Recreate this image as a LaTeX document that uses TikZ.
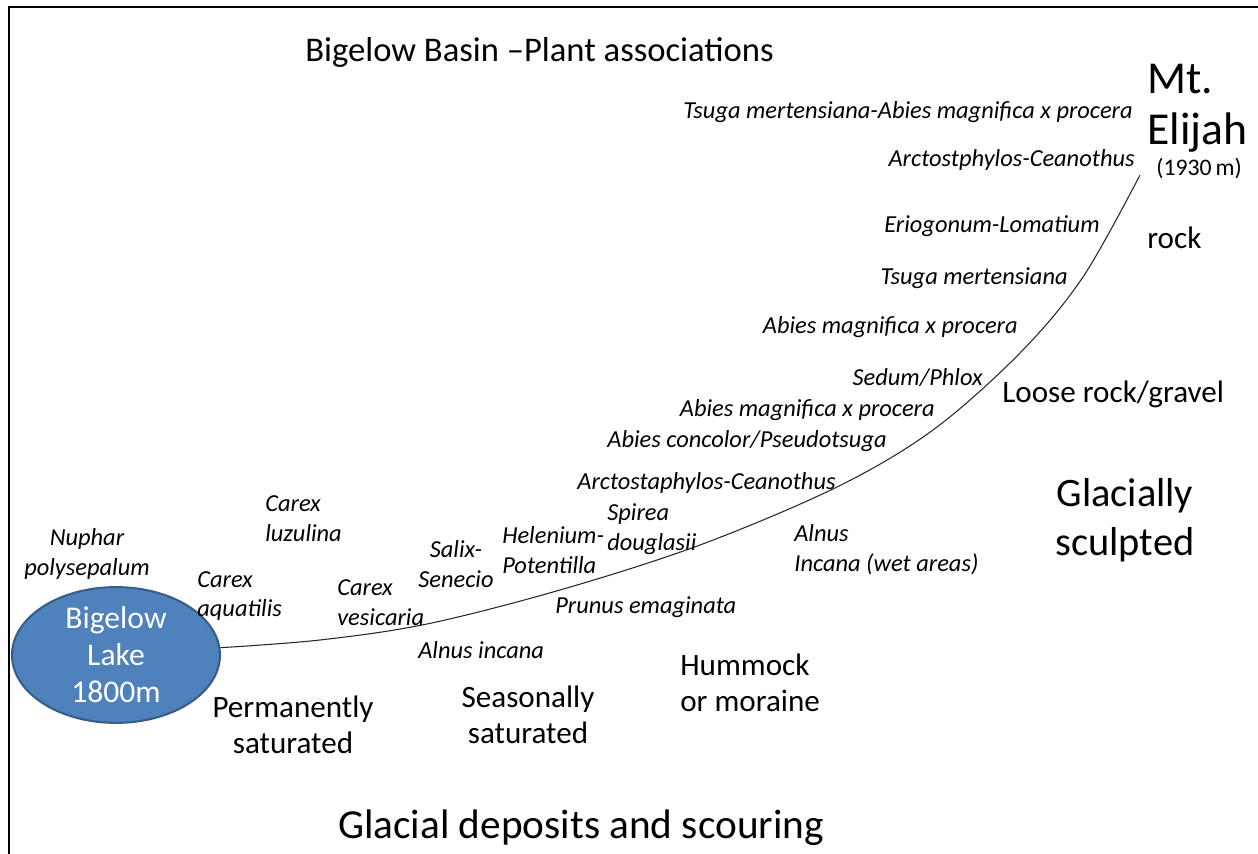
\documentclass[tikz,border=0pt]{standalone}
\usepackage{fontspec}
\setmainfont{Carlito}
\usepackage{xcolor}
\usepackage{tikz}
\usetikzlibrary{shapes.geometric}

\definecolor{lakeblue}{HTML}{4F81BD}
\definecolor{lakeedge}{HTML}{385D8A}

\begin{document}
\begin{tikzpicture}[
    x=0.02cm, y=-0.02cm,
    species/.style={inner sep=0pt, align=left,
                    font=\fontsize{13.9}{17}\selectfont\itshape},
    zone/.style={inner sep=0pt, align=left,
                 font=\fontsize{17.7}{20.5}\selectfont},
    big/.style={inner sep=0pt, align=center,
                font=\fontsize{23}{28}\selectfont},
    lake/.style={ellipse, draw=lakeedge, line width=1.2pt, fill=lakeblue,
                 text=white, minimum width=4.16cm, minimum height=2.32cm,
                 inner sep=0pt, align=center,
                 font=\fontsize{18}{21}\selectfont},
    slope/.style={line width=0.6pt, black!85}
]
\useasboundingbox (0,0) rectangle (1258,854);

% Frame
\draw[line width=1.5pt] (9,854) -- (9,7) -- (1258,7);

% Titles
\node[inner sep=0pt, anchor=west, font=\fontsize{19.7}{24}\selectfont]
      (title) at (305,52) {Bigelow Basin --Plant associations};
\node[inner sep=0pt, font=\fontsize{23.5}{27}\selectfont]
      (deposits) at (581,828) {Glacial deposits and scouring};

% Lake and summit
\node[lake] (lake) at (116,655) {Bigelow\\Lake\\1800m};
\node[inner sep=0pt, anchor=west, align=left,
      font=\fontsize{26}{29}\selectfont] (elijah) at (1147,108) {Mt.\\Elijah};
\node[inner sep=0pt, anchor=west, font=\fontsize{13.5}{15}\selectfont]
      (height) at (1156,168) {(1930\,m)};

% Slope from lake to summit
\coordinate (summit) at (1140,175);
\draw[slope] plot[smooth, tension=0.55] coordinates {(lake.4) (320,640)
      (427,624) (560,590) (700,545) (837,487) (933,430) (1020,353)
      (1083,277) (summit)};

% Upper slope associations
\node[species, anchor=east] (tsabies) at (1133,112)
      {Tsuga mertensiana-Abies magnifica x procera};
\node[species, anchor=east] (arcttop) at (1135,160) {Arctostphylos-Ceanothus};
\node[species, anchor=east] (erio)    at (1100,226) {Eriogonum-Lomatium};
\node[species, anchor=east] (tsuga)   at (1068,278) {Tsuga mertensiana};
\node[species, anchor=east] (abiesa)  at (1018,327) {Abies magnifica x procera};
\node[species, anchor=east] (sedum)   at (983,378)  {Sedum/Phlox};
\node[species, anchor=east] (abiesb)  at (935,410)  {Abies magnifica x procera};
\node[species, anchor=east] (concol)  at (887,441)  {Abies concolor/Pseudotsuga};
\node[species, anchor=east] (arctlow) at (836,483)  {Arctostaphylos-Ceanothus};

% Lower slope associations
\node[species, anchor=west] (spirea)  at (607,529) {Spirea\\douglasii};
\node[species, anchor=west] (helen)   at (502,550) {Helenium-\\Potentilla};
\node[species, align=center] (salix)  at (456,564) {Salix-\\Senecio};
\node[species, anchor=west] (luzul)   at (265,519) {Carex\\luzulina};
\node[species, align=center] (nuphar) at (87,554)  {Nuphar\\polysepalum};
\node[species, anchor=west] (aquat)   at (197,596) {Carex\\aquatilis};
\node[species, anchor=west] (vesic)   at (337,603) {Carex\\vesicaria};
\node[species, anchor=west] (alnusi)  at (418,650) {Alnus incana};
\node[species, anchor=west] (prunus)  at (555,607) {Prunus emaginata};
\node[species, anchor=west] (alnusw)  at (794,550) {Alnus\\Incana (wet areas)};

% Substrate zones
\node[zone, align=center] (perm)   at (293,725) {Permanently\\saturated};
\node[zone, align=center] (season) at (528,715) {Seasonally\\saturated};
\node[zone, anchor=west] (hummock) at (680,683) {Hummock\\or moraine};
\node[zone, anchor=west] (loose)   at (1002,394) {Loose rock/gravel};
\node[zone, anchor=west] (rock)    at (1147,238) {rock};
\node[big] (sculpt) at (1125,520) {Glacially\\sculpted};

\end{tikzpicture}
\end{document}
